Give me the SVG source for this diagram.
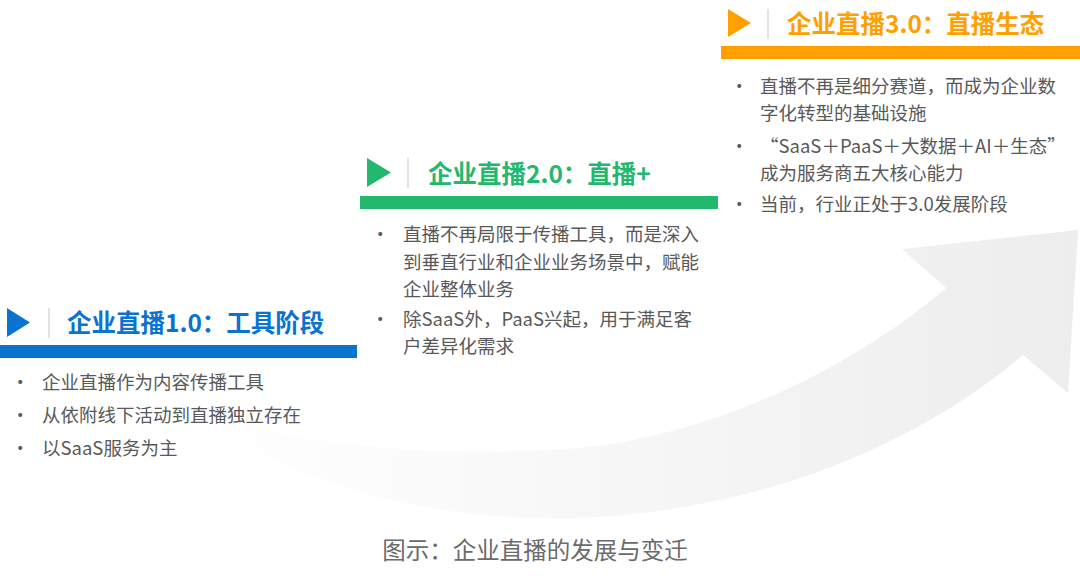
<svg xmlns="http://www.w3.org/2000/svg" width="1080" height="581" viewBox="0 0 1080 581">
<defs>
<linearGradient id="arrowGrad" x1="200" y1="0" x2="1080" y2="0" gradientUnits="userSpaceOnUse">
<stop offset="0" stop-color="#ffffff"/>
<stop offset="0.4" stop-color="#f8f8f8"/>
<stop offset="1" stop-color="#ededed"/>
</linearGradient>
<style>
.t{font-family:"Noto Sans CJK SC","Noto Sans",sans-serif;}
.title{font-size:24.5px;font-weight:bold;}
.body{font-size:18.5px;fill:#595959;}
.sep{stroke:#cfcfcf;stroke-width:1.2;}
.cap{font-size:23.5px;fill:#6b6b6b;}
</style>
</defs>
<rect width="1080" height="581" fill="#ffffff"/>
<g id="trend-arrow">
<path d="M 190,412 C 300,445 420,456 550,450 C 700,444 850,370 946,288 L 902,249 L 1078,230 L 1068,393 L 1023,355 C 900,460 720,520 550,518 C 420,518 300,485 190,412 Z" fill="url(#arrowGrad)"/>
</g>
<g id="stage1">
<polygon points="7,308 30,322.5 7,337" fill="#0A72CF"/>
<line class="sep" x1="49" y1="308" x2="49" y2="338"/>
<text class="t title" x="67" y="332" fill="#0A72CF">企业直播1.0：工具阶段</text>
<rect x="0" y="345" width="357" height="13" fill="#0A72CF"/>
<g class="t body">
<text x="11" y="389">•</text><text x="42" y="389">企业直播作为内容传播工具</text>
<text x="11" y="422">•</text><text x="42" y="422">从依附线下活动到直播独立存在</text>
<text x="11" y="455">•</text><text x="42" y="455">以SaaS服务为主</text>
</g>
</g>
<g id="stage2">
<polygon points="367,158 391,172.5 367,187" fill="#22B86E"/>
<line class="sep" x1="408" y1="158" x2="408" y2="188"/>
<text class="t title" x="428" y="183" fill="#22B86E">企业直播2.0：直播+</text>
<rect x="360" y="196" width="358" height="13" fill="#22B86E"/>
<g class="t body">
<text x="371" y="241">•</text><text x="403" y="241">直播不再局限于传播工具，而是深入</text>
<text x="403" y="268.5">到垂直行业和企业业务场景中，赋能</text>
<text x="403" y="296">企业整体业务</text>
<text x="371" y="326">•</text><text x="403" y="326">除SaaS外，PaaS兴起，用于满足客</text>
<text x="403" y="352.5">户差异化需求</text>
</g>
</g>
<g id="stage3">
<polygon points="728,9 751,23 728,37" fill="#FFA000"/>
<line class="sep" x1="768" y1="9" x2="768" y2="39"/>
<text class="t title" x="787" y="33" fill="#FFA000">企业直播3.0：直播生态</text>
<rect x="721" y="46" width="359" height="13" fill="#FFA000"/>
<g class="t body">
<text x="730" y="93">•</text><text x="760" y="93">直播不再是细分赛道，而成为企业数</text>
<text x="760" y="119.5">字化转型的基础设施</text>
<text x="730" y="153">•</text><text x="760" y="153">“SaaS＋PaaS＋大数据＋AI＋生态”</text>
<text x="760" y="180">成为服务商五大核心能力</text>
<text x="730" y="211">•</text><text x="760" y="211">当前，行业正处于3.0发展阶段</text>
</g>
</g>
<text class="t cap" x="535" y="559" text-anchor="middle">图示：企业直播的发展与变迁</text>
</svg>
